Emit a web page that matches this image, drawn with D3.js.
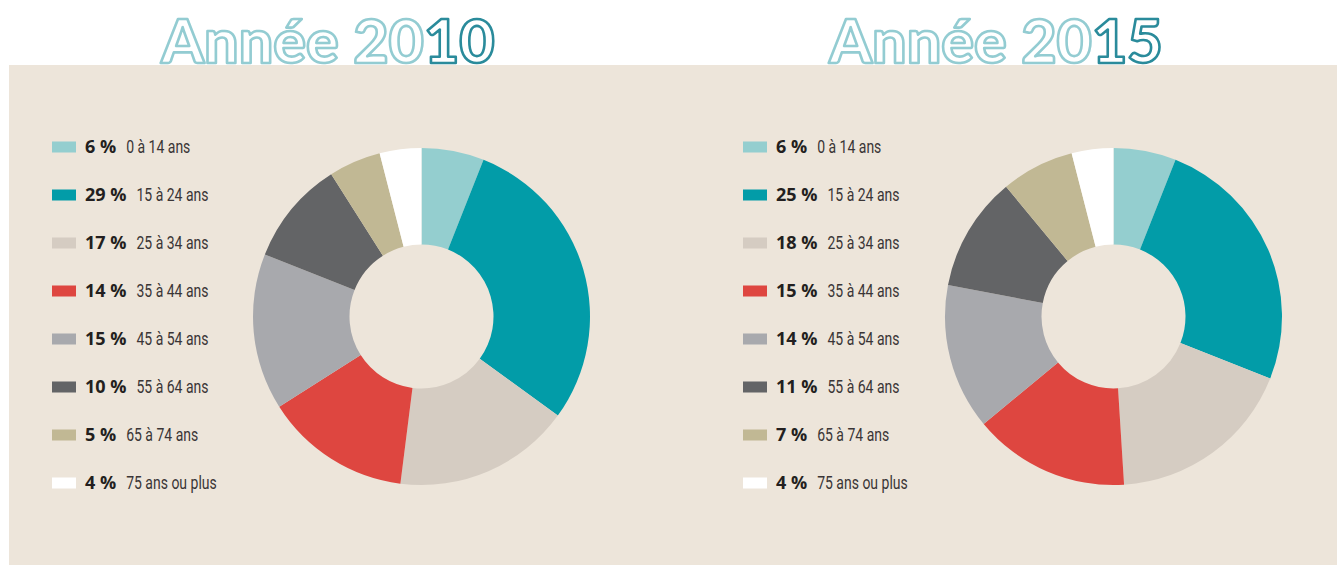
<!DOCTYPE html>
<html>
<head>
<meta charset="utf-8">
<style>
    body { margin: 0; background: #ffffff; }
    svg { display: block; }
</style>
</head>
<body>
<div class="board"></div>
<script src="https://cdnjs.cloudflare.com/ajax/libs/d3/7.8.5/d3.min.js"></script>
<script>
    // age groups and their shares (%) per year
    let ageGroups = ["0 à 14 ans", "15 à 24 ans", "25 à 34 ans", "35 à 44 ans",
        "45 à 54 ans", "55 à 64 ans", "65 à 74 ans", "75 ans ou plus"]
    let values2010 = [6, 29, 17, 14, 15, 10, 5, 4]
    let values2015 = [6, 25, 18, 15, 14, 11, 7, 4]
    let colors = ["#94cecf", "#029ca8", "#d5ccc2", "#de4640", "#a8a9ad", "#636466", "#c1b894", "#ffffff"]

    let width = 1337, height = 565
    let BG = "#ede5da"

    let svg = d3.select(".board").append("svg")
        .attr("width", width)
        .attr("height", height)

    svg.append("rect")
        .attr("x", 9).attr("y", 65)
        .attr("width", width - 9).attr("height", height - 65)
        .attr("fill", BG)

    let pie = d3.pie().sort(null).value(d => d)
    let arc = d3.arc().innerRadius(72).outerRadius(168.5)

    let rowScale = d3.scalePoint()
        .domain(d3.range(ageGroups.length))
        .range([147, 483])

    function appendTitle(x, prefix, suffix) {
        let t = svg.append("text")
            .attr("x", x).attr("y", 63)
            .attr("text-anchor", "middle")
            .attr("font-family", "Lato, 'DejaVu Sans', sans-serif")
            .attr("font-weight", 900)
            .attr("font-size", 61)
            .attr("fill", "#ffffff")
            .attr("stroke-width", 2.6)
            .attr("stroke-linejoin", "round")
        t.append("tspan").attr("stroke", "#93ccd2").text(prefix)
        t.append("tspan").attr("stroke", "#2a8b9b").text(suffix)
    }

    function appendDonut(cx, cy, values) {
        let g = svg.append("g").attr("transform", "translate(" + cx + "," + cy + ")")
        g.selectAll("path")
            .data(pie(values))
            .enter()
            .append("path")
            .attr("d", arc)
            .attr("fill", (d, i) => colors[i])
    }

    function appendLegend(x, values) {
        let g = svg.append("g")
        let rows = g.selectAll("g")
            .data(values)
            .enter()
            .append("g")
            .attr("transform", (d, i) => "translate(" + x + "," + rowScale(i) + ")")

        rows.append("rect")
            .attr("x", 0).attr("y", -5.5)
            .attr("width", 24).attr("height", 11)
            .attr("fill", (d, i) => colors[i])

        rows.append("text")
            .classed("pct", true)
            .attr("x", 33).attr("y", 6)
            .attr("fill", "#231f20")
            .attr("font-family", "'Open Sans', sans-serif")
            .attr("font-weight", 700)
            .attr("font-size", 18)
            .text(d => d + " %")

        // condensed label: squeeze regular text horizontally
        rows.each(function (d, i) {
            let row = d3.select(this)
            let w = row.select(".pct").node().getComputedTextLength()
            row.append("text")
                .attr("transform", "translate(" + (33 + w + 10) + ",6) scale(0.8,1)")
                .attr("font-family", "Roboto, sans-serif")
                .attr("font-size", 17.5)
                .attr("fill", "#3a3536")
                .text(ageGroups[i])
        })
    }

    appendTitle(328, "Année 20", "10")
    appendTitle(996, "Année 20", "15")

    appendLegend(52, values2010)
    appendLegend(743, values2015)

    appendDonut(421.5, 316.5, values2010)
    appendDonut(1113.5, 316.5, values2015)
</script>
</body>
</html>
